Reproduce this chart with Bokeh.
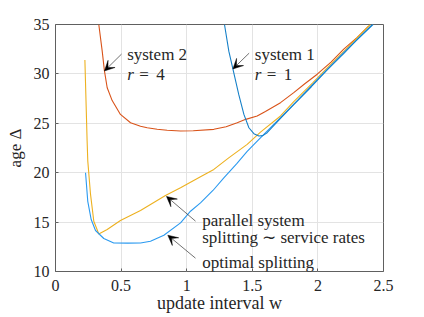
from bokeh.plotting import figure
from bokeh.models import Arrow, VeeHead, Label, FixedTicker, Range1d
from bokeh.embed import file_html
from bokeh.resources import INLINE

# ---- data ----
w_sys2 = [0.33, 0.356, 0.373, 0.394, 0.432, 0.495, 0.572, 0.648, 0.699, 0.775, 0.851,
          0.953, 1.05, 1.207, 1.30, 1.385, 1.45, 1.537, 1.6, 1.715, 1.816, 1.9, 1.995,
          2.1, 2.197, 2.30, 2.388]
age_sys2 = [35.0, 32.3, 30.3, 28.6, 27.3, 25.9, 25.06, 24.7, 24.55, 24.4, 24.29,
            24.22, 24.25, 24.39, 24.65, 25.06, 25.4, 25.74, 26.2, 27.09, 28.1, 29.0, 29.97,
            31.2, 32.5, 33.7, 34.87]

w_sys1 = [1.288, 1.321, 1.352, 1.397, 1.436, 1.474, 1.512, 1.55, 1.58, 1.613, 1.715,
          1.816, 1.95, 2.071, 2.2, 2.30, 2.416]
age_sys1 = [35.0, 32.3, 30.5, 27.9, 25.9, 24.55, 23.95, 23.71, 23.75, 24.05, 25.5,
            26.9, 28.7, 30.4, 32.1, 33.5, 35.0]

w_opt = [0.229, 0.246, 0.272, 0.305, 0.368, 0.444, 0.55, 0.648, 0.724, 0.826, 0.953,
         1.029, 1.105, 1.2, 1.283, 1.38, 1.461, 1.588, 1.715, 1.85, 2.0, 2.2, 2.42]
age_opt = [20.0, 17.1, 15.26, 14.15, 13.34, 12.89, 12.87, 12.89, 13.06, 13.67, 14.92,
           16.1, 16.95, 18.2, 19.48, 20.9, 22.16, 23.88, 25.57, 27.4, 29.5, 32.2, 35.0]

w_par = [0.224, 0.241, 0.246, 0.267, 0.292, 0.33, 0.394, 0.495, 0.648, 0.838, 0.953,
         1.105, 1.207, 1.32, 1.461, 1.5625, 1.715, 1.816, 1.96, 2.071, 2.2, 2.40]
age_par = [31.4, 23.2, 21.2, 17.8, 15.09, 13.8, 14.25, 15.16, 16.18, 17.7, 18.47,
           19.6, 20.33, 21.5, 22.87, 24.1, 25.74, 27.2, 29.1, 30.6, 32.3, 35.0]

x_ticks = [0, 0.5, 1, 1.5, 2, 2.5]
x_tick_labels = ["0", "0.5", "1", "1.5", "2", "2.5"]
y_ticks = [10, 15, 20, 25, 30, 35]
y_tick_labels = ["10", "15", "20", "25", "30", "35"]

FONT = "Liberation Serif"
TXT = "#262626"

p = figure(width=416, height=317,
           min_border_left=55, min_border_right=33, min_border_top=24, min_border_bottom=46,
           x_range=Range1d(0, 2.5), y_range=Range1d(10, 35),
           output_backend="svg", toolbar_location=None)
p.background_fill_color = "white"
p.border_fill_color = "white"
p.outline_line_color = "#606060"
p.outline_line_width = 1

p.xgrid.grid_line_color = "#e3e3e3"
p.ygrid.grid_line_color = "#e3e3e3"

for ax in (p.xaxis[0], p.yaxis[0]):
    ax.axis_line_color = None
    ax.major_tick_in = 3
    ax.major_tick_out = 0
    ax.minor_tick_line_color = None
    ax.major_tick_line_color = "#606060"
    ax.major_label_text_font = FONT
    ax.major_label_text_font_size = "16px"
    ax.major_label_text_color = TXT
    ax.axis_label_text_font = FONT
    ax.axis_label_text_font_size = "17px"
    ax.axis_label_text_font_style = "normal"
    ax.axis_label_text_color = TXT

p.xaxis.ticker = FixedTicker(ticks=x_ticks)
p.xaxis.major_label_overrides = {t: l for t, l in zip(x_ticks, x_tick_labels)}
p.yaxis.ticker = FixedTicker(ticks=y_ticks)
p.yaxis.major_label_overrides = {t: l for t, l in zip(y_ticks, y_tick_labels)}
p.xaxis.major_label_standoff = 8
p.yaxis.major_label_standoff = 6

p.yaxis.axis_label = "age Δ"
p.yaxis.axis_label_standoff = 6
p.xaxis.axis_label = "update interval w"
p.xaxis.axis_label_text_font_size = "18px"
p.xaxis.axis_label_standoff = -1

LW = 1.1
p.line(w_sys2, age_sys2, line_color="#D95319", line_width=LW)
p.line(w_par, age_par, line_color="#EDB120", line_width=LW)
p.line(w_opt, age_opt, line_color="#2B9AF0", line_width=LW)
p.line(w_sys1, age_sys1, line_color="#1680C8", line_width=LW)

# annotations
def arrow(xs, ys, xe, ye):
    p.add_layout(Arrow(end=VeeHead(size=10, fill_color="black", line_color="black", line_width=0.5),
                       x_start=xs, y_start=ys, x_end=xe, y_end=ye,
                       line_color="#333333", line_width=0.7))

arrow(0.503, 32.0, 0.373, 30.3)
arrow(1.476, 32.1, 1.352, 30.5)
arrow(1.067, 15.1, 0.846, 17.6)
arrow(1.067, 11.35, 0.856, 13.67)

def label(x, y, text, italic=False, xoff=0):
    p.add_layout(Label(x=x, y=y, x_offset=xoff, text=text, text_align="left",
                       text_baseline="alphabetic", text_font=FONT, text_font_size="17px",
                       text_font_style="italic" if italic else "normal", text_color=TXT))

label(0.546, 32.0, "system 2")
label(0.546, 29.97, "r", italic=True)
label(0.546, 29.97, "=", xoff=12)
label(0.546, 29.97, "4", xoff=29)
label(1.519, 32.0, "system 1")
label(1.519, 29.97, "r", italic=True)
label(1.519, 29.97, "=", xoff=12)
label(1.519, 29.97, "1", xoff=29)
label(1.118, 15.2, "parallel system")
label(1.118, 13.47, "splitting ∼ service rates")
label(1.118, 10.93, "optimal splitting")

open("out.html", "w").write(file_html(p, INLINE))
